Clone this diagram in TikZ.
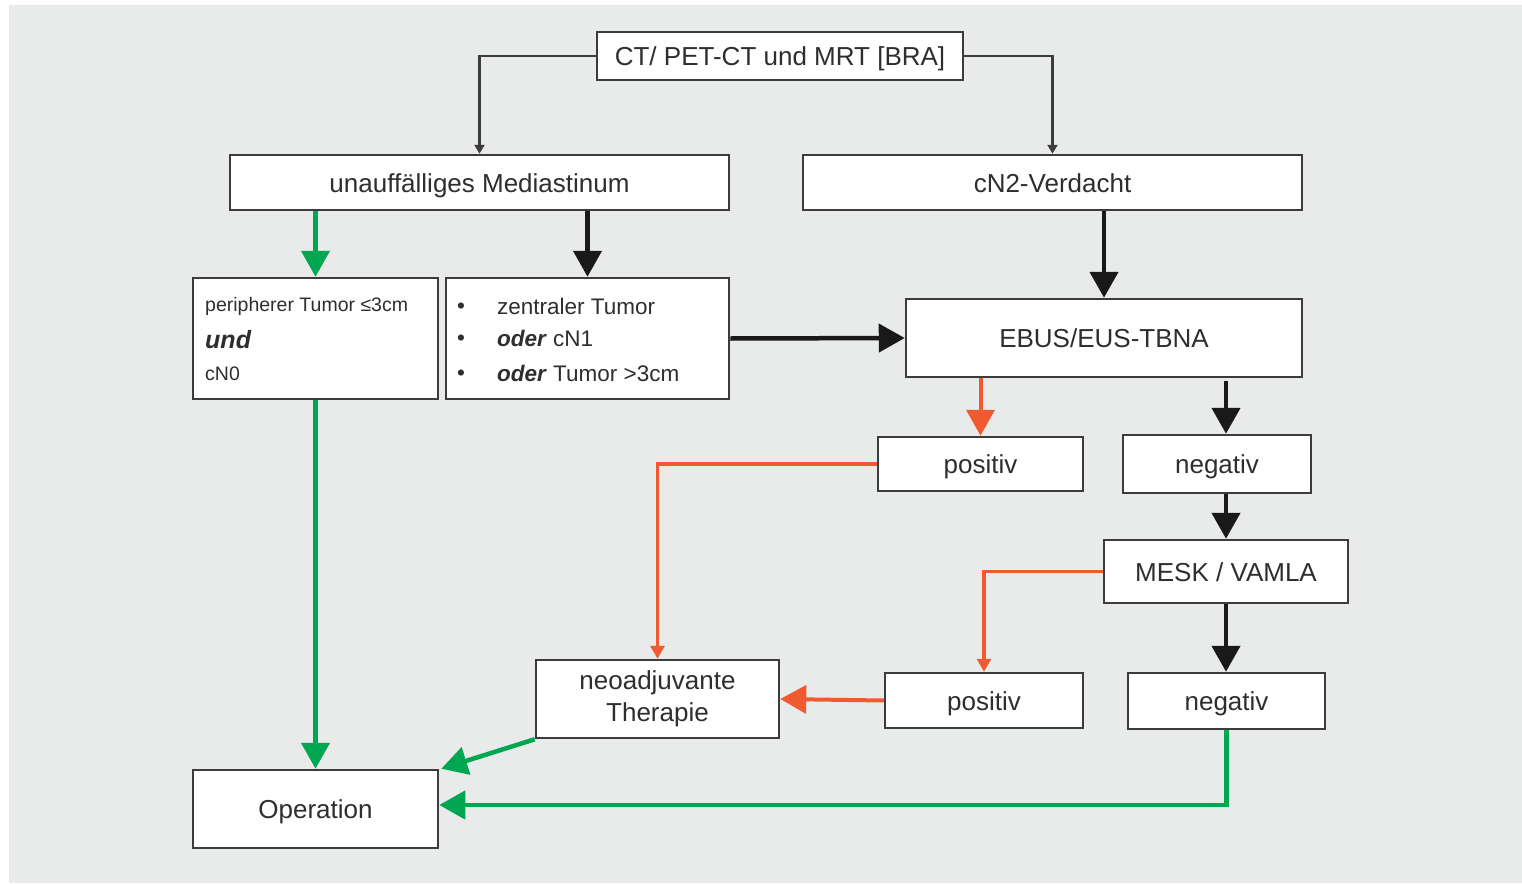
\documentclass[tikz,border=0pt]{standalone}
\usepackage{fontspec}
\setmainfont{Liberation Sans}
\usetikzlibrary{arrows.meta}
\definecolor{bggray}{HTML}{E9EBEA}
\definecolor{boxline}{HTML}{3C3C3C}
\definecolor{txt}{HTML}{2E2E2E}
\definecolor{okgreen}{HTML}{00A651}
\definecolor{posred}{HTML}{F05A30}
\tikzset{
  box/.style={draw=boxline, line width=2.5pt, fill=white, inner sep=0pt, text=txt,
    font=\fontsize{26}{31}\selectfont, text height=19pt, text depth=0pt},
  lbl/.style={inner sep=0pt, text=txt, anchor=base west},
  bigtip/.style={-{Triangle[width=28pt,length=26pt]}},
  smalltip/.style={-{Triangle[width=14pt,length=13pt]}},
  tinytip/.style={-{Triangle[width=10pt,length=9pt]}},
  blackbig/.style={bigtip, draw=black!90, line width=4.5pt},
  greenbig/.style={bigtip, draw=okgreen, line width=4.5pt},
  redbig/.style={bigtip, draw=posred, line width=4pt},
  redthin/.style={smalltip, draw=posred, line width=3.5pt},
  blackthin/.style={tinytip, draw=boxline, line width=2.5pt},
}
\begin{document}
\begin{tikzpicture}[x=1pt,y=-1pt]
\useasboundingbox (0,0) rectangle (1522,883);
\fill[bggray] (9,5) rectangle (1522,883);

% boxes
\node[box, minimum width=366pt, minimum height=48pt] (ct) at (780,56) {CT/ PET-CT und MRT [BRA]};
\node[box, minimum width=499pt, minimum height=55pt] (unauf) at (479.5,182.5) {unauffälliges Mediastinum};
\node[box, minimum width=499pt, minimum height=55pt] (cn2) at (1052.5,182.5) {cN2-Verdacht};
\node[box, minimum width=245pt, minimum height=121pt] (peri) at (315.5,338.5) {};
\node[box, minimum width=283pt, minimum height=121pt] (zent) at (587.5,338.5) {};
\node[box, minimum width=396pt, minimum height=78pt] (ebus) at (1104,338) {EBUS/EUS-TBNA};
\node[box, minimum width=205pt, minimum height=54pt] (pos1) at (980.5,464) {positiv};
\node[box, minimum width=188pt, minimum height=58pt] (neg1) at (1217,464) {negativ};
\node[box, minimum width=244pt, minimum height=63pt] (mesk) at (1226,571.5) {MESK / VAMLA};
\node[box, minimum width=243pt, minimum height=78pt, align=center, text height=, text depth=,
      font=\fontsize{26}{32}\selectfont] (neo) at (657.5,699) {neoadjuvante\\Therapie};
\node[box, minimum width=198pt, minimum height=55pt] (pos2) at (984,700.5) {positiv};
\node[box, minimum width=197pt, minimum height=56pt] (neg2) at (1226.5,701) {negativ};
\node[box, minimum width=245pt, minimum height=78pt] (op) at (315.5,809) {Operation};

% text inside the left criteria box
\node[lbl, font=\fontsize{19.5}{22}\selectfont] (p1) at (205,311) {peripherer Tumor ≤3cm};
\node[lbl, font=\fontsize{25}{28}\selectfont\bfseries\itshape] (p2) at (205,348) {und};
\node[lbl, font=\fontsize{19.5}{22}\selectfont] (p3) at (205,380) {cN0};

% bullet list inside the central criteria box
\begin{scope}[font=\fontsize{22.5}{26}\selectfont]
\node[lbl] (b1) at (457,313) {•};
\node[lbl] (b2) at (457,345) {•};
\node[lbl] (b3) at (457,380) {•};
\node[lbl] (z1) at (497,314) {zentraler Tumor};
\node[lbl] (z2) at (497,346) {\textbf{\textit{oder}} cN1};
\node[lbl] (z3) at (497,381) {\textbf{\textit{oder}} Tumor >3cm};
\end{scope}

% connectors from the imaging box
\draw[blackthin] (ct.west) -| (unauf.north);
\draw[blackthin] (ct.east) -| (cn2.north);

% first-level decisions
\draw[greenbig] (peri.north |- unauf.south) -- (peri.north);
\draw[blackbig] (zent.north |- unauf.south) -- (zent.north);
\draw[blackbig] (ebus.north |- cn2.south) -- (ebus.north);
\draw[blackbig] (zent.east) -- (ebus.west);

% staging results
\draw[redbig] (pos1.north |- ebus.south) -- (pos1.north);
\draw[blackbig] ([yshift=-3pt]mesk.north |- ebus.south) -- (mesk.north |- neg1.north);
\draw[blackbig] (mesk.north |- neg1.south) -- (mesk.north);
\draw[redthin] (pos1.west) -| (neo.north);
\draw[redthin] (mesk.west) -| (pos2.north);
\draw[blackbig] (mesk.south) -- (mesk.south |- neg2.north);
\draw[redbig] (pos2.west) -- (neo.east);

% paths to surgery
\draw[greenbig] (peri.south) -- (op.north);
\draw[greenbig] (neo.south west) -- ([xshift=2pt]op.north east);
\draw[greenbig] (neg2.south) |- ([yshift=4pt]op.east);
\end{tikzpicture}
\end{document}
